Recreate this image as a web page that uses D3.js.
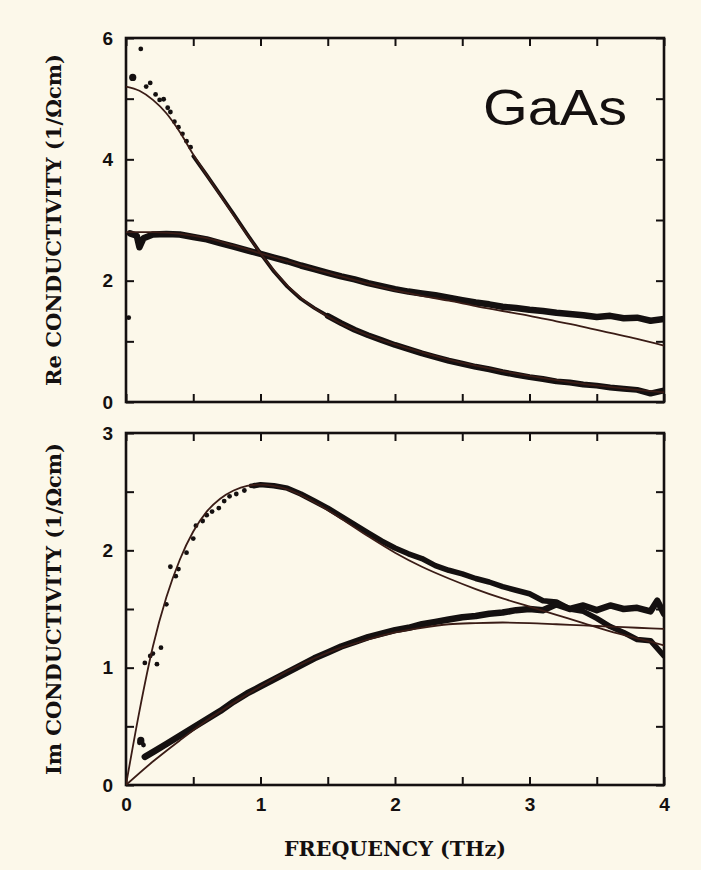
<!DOCTYPE html>
<html>
<head>
<meta charset="utf-8">
<script src="https://cdn.jsdelivr.net/npm/d3@7"></script>
<style>
  body { margin: 0; background: #fcf8ea; }
  svg { display: block; }
</style>
</head>
<body>
<svg id="chart" width="701" height="870"></svg>
<script>
// ---- data (frequency in THz, conductivity in 1/(Ohm cm)) ----

// top panel, sample 1: scattered low-frequency points, then the dense trace
const reA_dotX = [0.02, 0.05, 0.11, 0.15, 0.18, 0.22, 0.25, 0.28, 0.31, 0.33, 0.36, 0.39, 0.42, 0.45, 0.48];
const reA_dotY = [1.39, 5.35, 5.82, 5.20, 5.26, 5.07, 4.98, 4.99, 4.85, 4.78, 4.62, 4.53, 4.42, 4.30, 4.20];
const reA_x = [0.5, 0.6, 0.7, 0.8, 0.9, 1.0, 1.1, 1.2, 1.3, 1.4, 1.5, 1.6, 1.7, 1.8, 1.9, 2.0, 2.1, 2.2, 2.3, 2.4,
               2.5, 2.6, 2.7, 2.8, 2.9, 3.0, 3.1, 3.2, 3.3, 3.4, 3.5, 3.6, 3.7, 3.8, 3.9, 4.0];
const reA_y = [4.05, 3.74, 3.42, 3.10, 2.77, 2.45, 2.15, 1.90, 1.70, 1.55, 1.42, 1.30, 1.19, 1.10, 1.02, 0.94, 0.87, 0.80, 0.74, 0.68,
               0.63, 0.58, 0.54, 0.49, 0.45, 0.41, 0.38, 0.34, 0.32, 0.29, 0.27, 0.24, 0.22, 0.20, 0.14, 0.19];
const fitA_x = [0, 0.1, 0.2, 0.3, 0.4, 0.5, 0.6, 0.7, 0.8, 0.9, 1.0, 1.2, 1.4, 1.6, 1.8, 2.0, 2.2, 2.4, 2.6, 2.8, 3.0, 3.2, 3.4, 3.6, 3.8, 4.0];
const fitA_y = [5.20, 5.13, 4.98, 4.76, 4.45, 4.08, 3.74, 3.41, 3.08, 2.76, 2.45, 1.92, 1.55, 1.29, 1.10, 0.95, 0.82, 0.70, 0.60, 0.51, 0.43, 0.36, 0.30, 0.25, 0.20, 0.16];

// top panel, sample 2
const reB_x = [0.03, 0.08, 0.1, 0.13, 0.2, 0.3, 0.4, 0.5, 0.6, 0.7, 0.8, 0.9, 1.0, 1.1, 1.2, 1.3, 1.4, 1.5, 1.6, 1.7, 1.8, 1.9,
               2.0, 2.1, 2.2, 2.3, 2.4, 2.5, 2.6, 2.7, 2.8, 2.9, 3.0, 3.1, 3.2, 3.3, 3.4, 3.5, 3.6, 3.7, 3.8, 3.9, 4.0];
const reB_y = [2.78, 2.74, 2.55, 2.70, 2.76, 2.77, 2.76, 2.72, 2.68, 2.62, 2.56, 2.50, 2.44, 2.38, 2.32, 2.25, 2.19, 2.13, 2.07, 2.02, 1.96, 1.91,
               1.86, 1.82, 1.79, 1.76, 1.72, 1.68, 1.64, 1.61, 1.57, 1.55, 1.52, 1.50, 1.47, 1.45, 1.43, 1.40, 1.42, 1.38, 1.39, 1.34, 1.37];
const fitB_x = [0, 0.2, 0.4, 0.6, 0.8, 1.0, 1.2, 1.4, 1.6, 1.8, 2.0, 2.2, 2.4, 2.6, 2.8, 3.0, 3.2, 3.4, 3.6, 3.8, 4.0];
const fitB_y = [2.80, 2.80, 2.77, 2.70, 2.58, 2.45, 2.32, 2.19, 2.07, 1.95, 1.84, 1.75, 1.67, 1.58, 1.50, 1.42, 1.33, 1.24, 1.14, 1.04, 0.93];

// bottom panel, sample 1
const imC_dotX = [0.10, 0.11, 0.12, 0.13, 0.14, 0.18, 0.20, 0.23, 0.26, 0.30, 0.33, 0.37, 0.39, 0.45, 0.50, 0.52, 0.57, 0.60, 0.64, 0.69, 0.73, 0.77, 0.82, 0.88, 0.93];
const imC_dotY = [0.36, 0.38, 0.36, 0.34, 1.04, 1.10, 1.12, 1.03, 1.17, 1.54, 1.86, 1.78, 1.84, 1.98, 2.10, 2.21, 2.25, 2.30, 2.33, 2.36, 2.42, 2.46, 2.48, 2.51, 2.55];
const imC_x = [0.95, 1.0, 1.1, 1.2, 1.3, 1.4, 1.5, 1.6, 1.7, 1.8, 1.9, 2.0, 2.1, 2.2, 2.3, 2.4, 2.5, 2.6, 2.7, 2.8, 2.9,
               3.0, 3.1, 3.2, 3.3, 3.4, 3.5, 3.6, 3.7, 3.8, 3.9, 4.0];
const imC_y = [2.55, 2.56, 2.55, 2.53, 2.48, 2.42, 2.36, 2.29, 2.22, 2.15, 2.08, 2.02, 1.97, 1.93, 1.87, 1.83, 1.80, 1.76, 1.73, 1.69, 1.66,
               1.63, 1.57, 1.56, 1.50, 1.48, 1.42, 1.35, 1.30, 1.24, 1.23, 1.10];
const fitC_x = [0, 0.1, 0.2, 0.3, 0.4, 0.5, 0.6, 0.7, 0.8, 0.9, 1.0, 1.2, 1.4, 1.6, 1.8, 2.0, 2.2, 2.4, 2.6, 2.8, 3.0, 3.2, 3.4, 3.6, 3.8, 4.0];
const fitC_y = [0, 0.63, 1.18, 1.60, 1.92, 2.16, 2.33, 2.44, 2.51, 2.55, 2.56, 2.52, 2.41, 2.27, 2.12, 1.98, 1.86, 1.76, 1.67, 1.59, 1.52, 1.45, 1.38, 1.31, 1.25, 1.19];

// bottom panel, sample 2
const imD_x = [0.14, 0.2, 0.3, 0.4, 0.5, 0.6, 0.7, 0.8, 0.9, 1.0, 1.1, 1.2, 1.3, 1.4, 1.5, 1.6, 1.7, 1.8, 1.9, 2.0,
               2.1, 2.2, 2.3, 2.4, 2.5, 2.6, 2.7, 2.8, 2.9, 3.0, 3.1, 3.2, 3.3, 3.4, 3.5, 3.6, 3.7, 3.8, 3.9, 3.95, 4.0];
const imD_y = [0.24, 0.28, 0.35, 0.42, 0.49, 0.56, 0.63, 0.71, 0.78, 0.84, 0.90, 0.96, 1.02, 1.08, 1.13, 1.18, 1.22, 1.26, 1.29, 1.32,
               1.34, 1.37, 1.39, 1.41, 1.43, 1.44, 1.46, 1.47, 1.49, 1.50, 1.49, 1.54, 1.50, 1.53, 1.49, 1.53, 1.50, 1.51, 1.48, 1.57, 1.46];
const fitD_x = [0, 0.2, 0.4, 0.6, 0.8, 1.0, 1.2, 1.4, 1.6, 1.8, 2.0, 2.2, 2.4, 2.6, 2.8, 3.0, 3.2, 3.4, 3.6, 3.8, 4.0];
const fitD_y = [0, 0.20, 0.38, 0.55, 0.70, 0.84, 0.97, 1.08, 1.17, 1.24, 1.30, 1.34, 1.37, 1.38, 1.385, 1.38, 1.37, 1.36, 1.35, 1.34, 1.33];

// axis ticks and labels
const xTicks = [0, 0.5, 1, 1.5, 2, 2.5, 3, 3.5, 4];
const xLabels = [0, 1, 2, 3, 4];
const reTicks = [0, 1, 2, 3, 4, 5, 6];
const reLabels = [0, 2, 4, 6];
const imTicks = [0, 0.5, 1, 1.5, 2, 2.5, 3];
const imLabels = [0, 1, 2, 3];

// ---- drawing ----
const svg = d3.select('#chart');
const ink = '#141010';
const fitInk = '#3a1c16';

const left = 126, right = 664;
const x = d3.scaleLinear().domain([0, 4]).range([left, right]);
const yRe = d3.scaleLinear().domain([0, 6]).range([402, 38]);
const yIm = d3.scaleLinear().domain([0, 3]).range([785, 433]);

const zip = (xs, ys) => xs.map((v, i) => [v, ys[i]]);

function drawPanel(id, y, yTicks, yLabels, showXLabels) {
  const [y0, y1] = y.range();
  const g = svg.append('g');

  // clip so traces stay inside the frame
  svg.append('clipPath').attr('id', id)
    .append('rect').attr('x', left).attr('y', y1).attr('width', right - left).attr('height', y0 - y1);

  const fmt = list => d => list.includes(d) ? d3.format('d')(d) : '';

  g.append('g').attr('transform', `translate(0,${y0})`)
    .call(d3.axisBottom(x).tickValues(xTicks).tickSize(-8).tickPadding(13)
      .tickFormat(showXLabels ? fmt(xLabels) : () => ''));
  g.append('g').attr('transform', `translate(0,${y1})`)
    .call(d3.axisTop(x).tickValues(xTicks).tickSize(-8).tickFormat(() => ''));
  g.append('g').attr('transform', `translate(${left},0)`)
    .call(d3.axisLeft(y).tickValues(yTicks).tickSize(-8).tickPadding(13).tickFormat(fmt(yLabels)));
  g.append('g').attr('transform', `translate(${right},0)`)
    .call(d3.axisRight(y).tickValues(yTicks).tickSize(-8).tickFormat(() => ''));

  g.selectAll('.domain').remove();
  g.selectAll('.tick line').attr('stroke', ink).attr('stroke-width', 2);
  g.selectAll('.tick text')
    .attr('fill', ink)
    .style('font-family', '"Liberation Sans", Arial, sans-serif')
    .style('font-weight', 'bold')
    .style('font-size', '19px');

  g.append('rect')
    .attr('x', left).attr('y', y1)
    .attr('width', right - left).attr('height', y0 - y1)
    .attr('fill', 'none').attr('stroke', ink).attr('stroke-width', 2.6);

  return svg.append('g').attr('clip-path', `url(#${id})`);
}

function trace(layer, y, pts, width, color, curve) {
  const line = d3.line().x(d => x(d[0])).y(d => y(d[1])).curve(curve || d3.curveLinear);
  layer.append('path')
    .datum(pts)
    .attr('d', line)
    .attr('fill', 'none')
    .attr('stroke', color)
    .attr('stroke-width', width)
    .attr('stroke-linejoin', 'round')
    .attr('stroke-linecap', 'round');
}

function dots(layer, y, pts, r) {
  layer.selectAll(null).data(pts).enter().append('circle')
    .attr('cx', d => x(d[0])).attr('cy', d => y(d[1]))
    .attr('r', (d, i) => i === 1 ? r + 1.2 : r)
    .attr('fill', ink);
}

// top panel: real part
const reLayer = drawPanel('clipRe', yRe, reTicks, reLabels, false);
const reA = zip(reA_x, reA_y);
trace(reLayer, yRe, reA.filter(d => d[0] <= 1.5), 3.6, ink);
trace(reLayer, yRe, reA.filter(d => d[0] >= 1.5), 6, ink);
dots(reLayer, yRe, zip(reA_dotX, reA_dotY), 2.4);
trace(reLayer, yRe, zip(reB_x, reB_y), 6.5, ink);
trace(reLayer, yRe, zip(fitA_x, fitA_y), 1.8, fitInk, d3.curveMonotoneX);
trace(reLayer, yRe, zip(fitB_x, fitB_y), 1.8, fitInk, d3.curveMonotoneX);

// bottom panel: imaginary part
const imLayer = drawPanel('clipIm', yIm, imTicks, imLabels, true);
dots(imLayer, yIm, zip(imC_dotX, imC_dotY), 2.4);
trace(imLayer, yIm, zip(imC_x, imC_y), 5.5, ink);
trace(imLayer, yIm, zip(imD_x, imD_y), 6.5, ink);
trace(imLayer, yIm, zip(fitC_x, fitC_y), 1.8, fitInk, d3.curveMonotoneX);
trace(imLayer, yIm, zip(fitD_x, fitD_y), 1.8, fitInk, d3.curveMonotoneX);

// axis titles
const titleFont = '"DejaVu Serif", "Liberation Serif", serif';
svg.append('text')
  .attr('transform', `translate(61,${(yRe(0) + yRe(6)) / 2}) rotate(-90)`)
  .attr('text-anchor', 'middle')
  .attr('textLength', 332).attr('lengthAdjust', 'spacingAndGlyphs')
  .style('font-family', titleFont).style('font-weight', 'bold').style('font-size', '21px')
  .attr('fill', ink)
  .text('Re CONDUCTIVITY (1/Ωcm)');

svg.append('text')
  .attr('transform', `translate(61,${(yIm(0) + yIm(3)) / 2}) rotate(-90)`)
  .attr('text-anchor', 'middle')
  .attr('textLength', 332).attr('lengthAdjust', 'spacingAndGlyphs')
  .style('font-family', titleFont).style('font-weight', 'bold').style('font-size', '21px')
  .attr('fill', ink)
  .text('Im CONDUCTIVITY (1/Ωcm)');

svg.append('text')
  .attr('x', (left + right) / 2).attr('y', 856)
  .attr('text-anchor', 'middle')
  .attr('textLength', 222).attr('lengthAdjust', 'spacingAndGlyphs')
  .style('font-family', titleFont).style('font-weight', 'bold').style('font-size', '21px')
  .attr('fill', ink)
  .text('FREQUENCY (THz)');

// sample label
svg.append('text')
  .attr('x', 483).attr('y', 125)
  .attr('textLength', 144).attr('lengthAdjust', 'spacingAndGlyphs')
  .style('font-family', '"Liberation Sans", Arial, sans-serif')
  .style('font-size', '50px')
  .attr('fill', ink)
  .text('GaAs');
</script>
</body>
</html>
